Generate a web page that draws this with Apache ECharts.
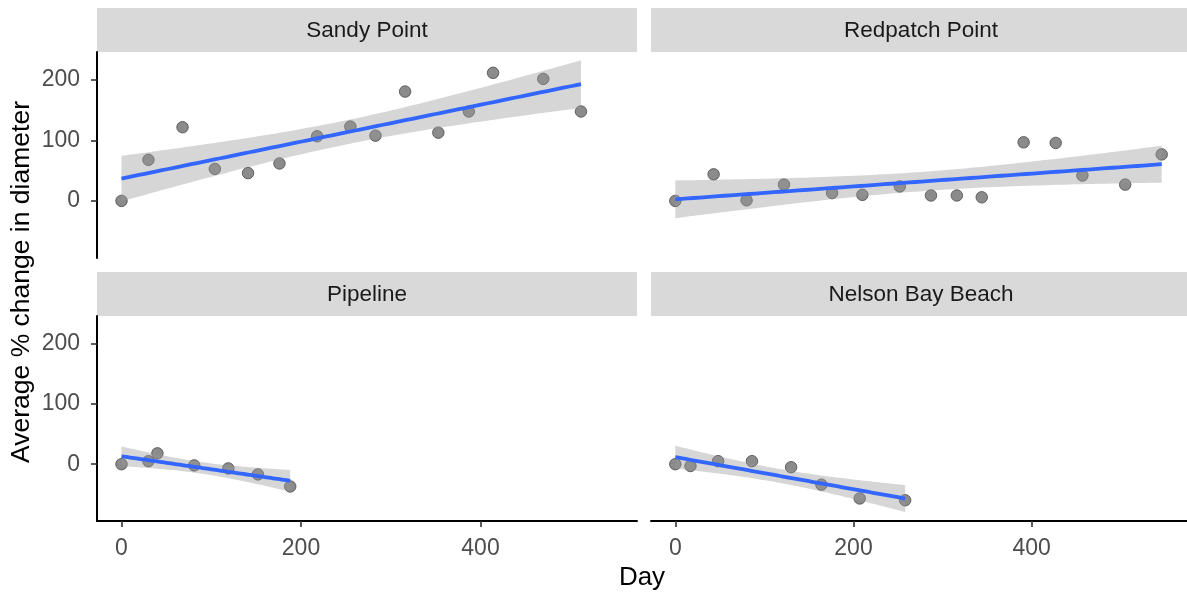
<!DOCTYPE html>
<html>
<head>
<meta charset="utf-8">
<script src="https://cdn.jsdelivr.net/npm/echarts@6/dist/echarts.min.js"></script>
<style>html,body{margin:0;padding:0;background:#fff;}#c{width:1187px;height:594px;}</style>
</head>
<body>
<div id="c"></div>
<script>
// ---- data ----
const panelNames = ["Sandy Point", "Redpatch Point", "Pipeline", "Nelson Bay Beach"];
const sandyDay = [0, 30, 68, 104, 141, 176, 218, 255, 283, 316, 353, 387, 414, 470, 512];
const sandyPct = [0, 68, 122, 53, 46, 62, 107, 123, 108, 181, 113, 148, 212, 202, 148];
const redpatchDay = [0, 43, 80, 122, 176, 210, 252, 287, 316, 344, 391, 427, 457, 505, 546];
const redpatchPct = [0, 44, 1, 27, 13, 10, 24, 9, 9, 6, 97, 96, 42, 27, 77];
const pipelineDay = [0, 30, 40, 81, 119, 152, 188];
const pipelinePct = [0, 5, 18, -2, -7, -17, -37];
const nelsonDay = [0, 17, 48, 86, 130, 164, 207, 258];
const nelsonPct = [0, -3, 5, 5, -5, -34, -57, -60];
const xTicks = [0, 200, 400];
const yTicks = [0, 100, 200];
const tQuantile975 = {5: 2.5706, 6: 2.4469, 13: 2.1604};

const panels = [
  {name: panelNames[0], x: sandyDay, y: sandyPct},
  {name: panelNames[1], x: redpatchDay, y: redpatchPct},
  {name: panelNames[2], x: pipelineDay, y: pipelinePct},
  {name: panelNames[3], x: nelsonDay, y: nelsonPct}
];

// linear model fit with 95% confidence band (as geom_smooth(method = "lm"))
function lmFit(xs, ys) {
  const n = xs.length;
  const mx = xs.reduce((a, b) => a + b, 0) / n;
  const my = ys.reduce((a, b) => a + b, 0) / n;
  let sxx = 0, sxy = 0;
  for (let i = 0; i < n; i++) { sxx += (xs[i] - mx) ** 2; sxy += (xs[i] - mx) * (ys[i] - my); }
  const b = sxy / sxx, a = my - b * mx;
  let sse = 0;
  for (let i = 0; i < n; i++) sse += (ys[i] - a - b * xs[i]) ** 2;
  const s = Math.sqrt(sse / (n - 2));
  const t = tQuantile975[n - 2];
  const xmin = Math.min(...xs), xmax = Math.max(...xs);
  const fit = [], lo = [], hi = [];
  const m = 80;
  for (let k = 0; k < m; k++) {
    const x = xmin + (xmax - xmin) * k / (m - 1);
    const yh = a + b * x;
    const se = s * Math.sqrt(1 / n + (x - mx) ** 2 / sxx);
    fit.push([x, yh]); lo.push([x, yh - t * se]); hi.push([x, yh + t * se]);
  }
  return {fit, lo, hi};
}

const gridDefs = [
  {left: 97, top: 52, width: 540, height: 206},
  {left: 651, top: 52, width: 540, height: 206},
  {left: 97, top: 316, width: 540, height: 205},
  {left: 651, top: 316, width: 540, height: 205}
];
const X_MIN = -27.3, X_MAX = 574.4, Y_MIN = -94.5, Y_MAX = 246.5;
const FONT = '"Liberation Sans", Arial, sans-serif';

const grids = [], xAxes = [], yAxes = [], series = [], graphics = [];
panels.forEach((p, i) => {
  const g = gridDefs[i];
  grids.push(Object.assign({containLabel: false}, g));
  const showX = i >= 2, showY = i % 2 === 0;
  xAxes.push({
    type: 'value', gridIndex: i, min: X_MIN, max: X_MAX,
    splitLine: {show: false},
    axisLine: {show: showX, onZero: false, lineStyle: {color: '#000', width: 2}},
    axisTick: {show: showX, length: 6, customValues: xTicks, lineStyle: {color: '#333', width: 1.6}},
    axisLabel: {show: showX, customValues: xTicks, margin: 16, color: '#4d4d4d', fontSize: 23, fontFamily: FONT}
  });
  yAxes.push({
    type: 'value', gridIndex: i, min: Y_MIN, max: Y_MAX,
    splitLine: {show: false},
    axisLine: {show: showY, onZero: false, lineStyle: {color: '#000', width: 2}},
    axisTick: {show: showY, length: 6, customValues: yTicks, lineStyle: {color: '#333', width: 1.6}},
    axisLabel: {show: showY, customValues: yTicks, margin: 17, color: '#4d4d4d', fontSize: 23, fontFamily: FONT}
  });
  const pts = p.x.map((d, k) => [d, p.y[k]]);
  series.push({
    type: 'scatter', xAxisIndex: i, yAxisIndex: i, data: pts, symbolSize: 11.5, z: 2,
    itemStyle: {color: '#6e6e6e', borderColor: '#4a4a4a', borderWidth: 1}, silent: true
  });
  const f = lmFit(p.x, p.y);
  series.push({
    type: 'custom', xAxisIndex: i, yAxisIndex: i, data: [f.fit[0]], z: 3, silent: true,
    renderItem: function (params, api) {
      const poly = f.hi.map(q => api.coord(q)).concat(f.lo.slice().reverse().map(q => api.coord(q)));
      return {type: 'polygon', shape: {points: poly}, style: {fill: 'rgba(153,153,153,0.4)'}};
    }
  });
  series.push({
    type: 'line', xAxisIndex: i, yAxisIndex: i, data: f.fit, showSymbol: false, z: 4, silent: true,
    lineStyle: {color: '#3366FF', width: 3.8}
  });
  // facet strip
  const stripTop = g.top - 44;
  graphics.push({type: 'rect', shape: {x: g.left, y: stripTop, width: g.width, height: 44}, style: {fill: '#d9d9d9'}, silent: true});
  graphics.push({type: 'text', x: g.left + 270, y: stripTop + 23, style: {text: p.name, fill: '#1a1a1a', font: '22.5px ' + FONT, align: 'center', verticalAlign: 'middle'}, silent: true});
});

graphics.push({type: 'text', x: 22, y: 282, rotation: Math.PI / 2, style: {text: 'Average % change in diameter', fill: '#000', font: '26.5px ' + FONT, align: 'center', verticalAlign: 'middle'}, silent: true});
graphics.push({type: 'text', x: 642, y: 578, style: {text: 'Day', fill: '#000', font: '26px ' + FONT, align: 'center', verticalAlign: 'middle'}, silent: true});

const chart = echarts.init(document.getElementById('c'), null, {renderer: 'canvas'});
chart.setOption({
  animation: false,
  backgroundColor: '#fff',
  grid: grids, xAxis: xAxes, yAxis: yAxes, series: series,
  graphic: {elements: graphics}
});
</script>
</body>
</html>
